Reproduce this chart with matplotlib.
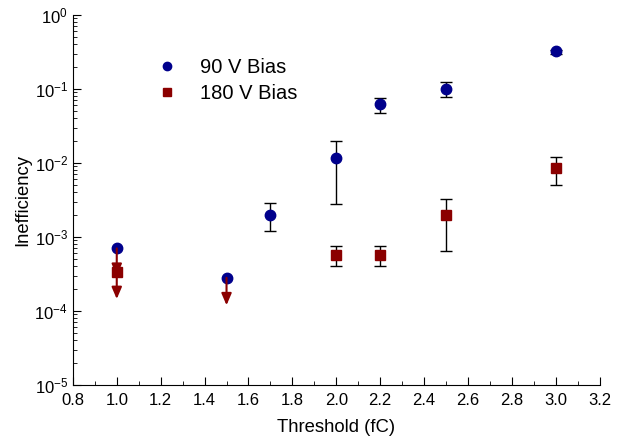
import matplotlib
matplotlib.use("Agg")
import matplotlib.pyplot as plt
import numpy as np

plt.rcParams['font.family'] = ['Liberation Sans', 'DejaVu Sans']

# 90 V Bias
x90 = [1.7, 2.0, 2.2, 2.5, 3.0]
y90 = [2.0e-3, 1.15e-2, 0.062, 0.10, 0.32]
y90_lo = [1.2e-3, 2.8e-3, 0.047, 0.078, 0.30]
y90_hi = [2.9e-3, 2.0e-2, 0.076, 0.125, 0.34]
# 90 V upper limits
x90_ul = [1.0, 1.5]
y90_ul = [7.0e-4, 2.8e-4]

# 180 V Bias
x180 = [2.0, 2.2, 2.5, 3.0]
y180 = [5.7e-4, 5.7e-4, 1.95e-3, 8.6e-3]
y180_lo = [4.0e-4, 4.0e-4, 6.5e-4, 5.0e-3]
y180_hi = [7.6e-4, 7.6e-4, 3.3e-3, 1.2e-2]
# 180 V upper limits
x180_ul = [1.0]
y180_ul = [3.4e-4]

blue = '#00008C'
red = '#8B0000'

fig = plt.figure(figsize=(6.28, 4.36), dpi=100)
ax = fig.add_axes([0.116, 0.117, 0.839, 0.849])

def err(y, lo, hi):
    y = np.array(y); return [y - np.array(lo), np.array(hi) - y]

ax.errorbar(x90, y90, yerr=err(y90, y90_lo, y90_hi), fmt='none', ecolor='black',
            elinewidth=1, capsize=4, capthick=1, zorder=2)
ax.errorbar(x180, y180, yerr=err(y180, y180_lo, y180_hi), fmt='none', ecolor='black',
            elinewidth=1, capsize=4, capthick=1, zorder=2)

# upper-limit arrows
for xs, ys in [(x90_ul, y90_ul), (x180_ul, y180_ul)]:
    for xv, yv in zip(xs, ys):
        ax.annotate('', xy=(xv, yv / 10**0.37), xytext=(xv, yv),
                    arrowprops=dict(arrowstyle='-|>,head_length=0.7,head_width=0.3',
                                    color=red, lw=1.5, shrinkA=0, shrinkB=0), zorder=4)

ax.plot(x90 + x90_ul, y90 + y90_ul, 'o', color=blue, ms=7.5, ls='none', zorder=3, label='90 V Bias')
ax.plot(x180 + x180_ul, y180 + y180_ul, 's', color=red, ms=7.5, ls='none', zorder=3, label='180 V Bias')

ax.set_yscale('log')
ax.set_ylim(1e-5, 1)
ax.set_xlim(0.8, 3.2)
ax.set_xticks(np.arange(0.8, 3.21, 0.2))
ax.set_xticklabels([f'{v:.1f}' for v in np.arange(0.8, 3.21, 0.2)])
ax.set_xticks(np.arange(0.9, 3.2, 0.2), minor=True)
ax.spines['top'].set_visible(False)
ax.spines['right'].set_visible(False)
ax.tick_params(which='both', direction='in', labelsize=12)
ax.tick_params(axis='x', pad=6)
ax.tick_params(which='major', length=6)
ax.tick_params(which='minor', length=3)
ax.set_xlabel('Threshold (fC)', fontsize=13.3, labelpad=8)
ax.set_ylabel('Inefficiency', fontsize=13.3, labelpad=2)

ax.legend(loc='upper left', bbox_to_anchor=(0.144, 0.905), frameon=False, fontsize=14.5,
          handlelength=1.0, handletextpad=1.15, labelspacing=0.36, markerscale=0.8,
          borderaxespad=0)

fig.savefig('out.png', dpi=100)
